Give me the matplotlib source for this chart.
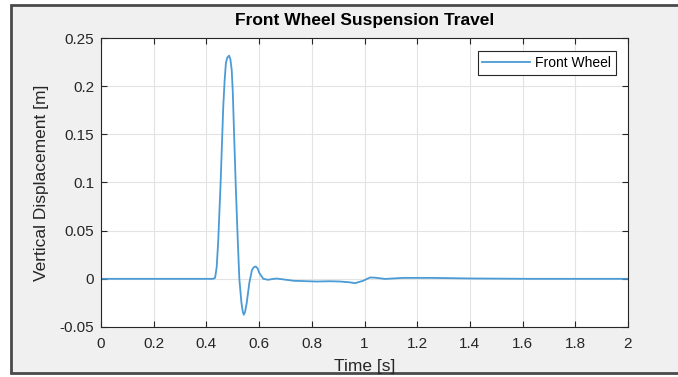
import matplotlib.pyplot as plt
from matplotlib.patches import Rectangle

# data
time_s = [0.0, 0.2, 0.4, 0.425, 0.433, 0.439, 0.445, 0.454, 0.464, 0.469, 0.474,
          0.479, 0.486, 0.491, 0.496, 0.500, 0.505, 0.512, 0.519, 0.525, 0.533,
          0.538, 0.542, 0.547, 0.553, 0.563, 0.573, 0.580, 0.587, 0.594, 0.601,
          0.616, 0.635, 0.650, 0.667, 0.690, 0.730, 0.819, 0.869, 0.907, 0.940,
          0.964, 0.995, 1.021, 1.040, 1.078, 1.147, 1.249, 1.400, 1.628, 2.0]
front_wheel = [0.0, 0.0, 0.0, 0.0, 0.001, 0.012, 0.040, 0.100, 0.179, 0.205, 0.224,
               0.2295, 0.2317, 0.228, 0.217, 0.195, 0.151, 0.092, 0.040, 0.0, -0.025,
               -0.034, -0.0373, -0.034, -0.025, -0.004, 0.0093, 0.012, 0.0128, 0.011, 0.006,
               0.0, -0.001, -0.0002, 0.0003, -0.0005, -0.002, -0.0028, -0.0025, -0.0028, -0.0035,
               -0.0045, -0.002, 0.0014, 0.0012, -0.0001, 0.001, 0.001, 0.0004, 0.0, 0.0]

x_ticks = [0, 0.2, 0.4, 0.6, 0.8, 1, 1.2, 1.4, 1.6, 1.8, 2]
x_labels = ['0', '0.2', '0.4', '0.6', '0.8', '1', '1.2', '1.4', '1.6', '1.8', '2']
y_ticks = [-0.05, 0, 0.05, 0.1, 0.15, 0.2, 0.25]
y_labels = ['-0.05', '0', '0.05', '0.1', '0.15', '0.2', '0.25']

plt.rcParams['font.family'] = ['Liberation Sans', 'DejaVu Sans']
dark = '#262626'

fig = plt.figure(figsize=(6.78, 3.77), dpi=100, facecolor='white')

# window frame of the screenshot (drawn behind the axes)
W, H = 678, 377
frame = Rectangle((11 / W, 4 / H), 1.2, (373 - 5) / H,
                  transform=fig.transFigure, facecolor='#f0f0f0',
                  edgecolor='#4a4a4a', linewidth=2)
frame.set_zorder(-10)
fig.add_artist(frame)

ax = fig.add_axes([101 / W, (H - 327) / H, (628 - 101) / W, (327 - 38) / H])
ax.set_zorder(1)
ax.set_facecolor('white')

ax.plot(time_s, front_wheel, color='#4a9bd6', linewidth=1.3, label='Front Wheel')

ax.set_xlim(0, 2)
ax.set_ylim(-0.05, 0.25)
ax.set_xticks(x_ticks)
ax.set_xticklabels(x_labels)
ax.set_yticks(y_ticks)
ax.set_yticklabels(y_labels)
ax.tick_params(direction='in', length=4, width=0.8, colors=dark, labelsize=11,
               top=True, right=True)
ax.tick_params(axis='x', pad=7)
ax.tick_params(axis='y', pad=5)
ax.grid(True, color='#e3e3e3', linewidth=0.8)
ax.set_axisbelow(True)
for s in ax.spines.values():
    s.set_color(dark)
    s.set_linewidth(0.8)

ax.set_xlabel('Time [s]', fontsize=12.5, color=dark, va='center')
ax.xaxis.set_label_coords(0.5, (327 - 366) / 289)
ax.set_ylabel('Vertical Displacement [m]', fontsize=12.5, color=dark, va='center')
ax.yaxis.set_label_coords((42 - 101) / 527, 0.5)
ax.text(0.5, 1 + (38 - 20) / 289, 'Front Wheel Suspension Travel', transform=ax.transAxes,
        ha='center', va='center', fontsize=12.5, fontweight='bold', color='black')

leg = ax.legend(loc='upper right', bbox_to_anchor=((616 - 101) / 527, (327 - 51) / 289),
                borderaxespad=0, fontsize=10, handlelength=3.4, handletextpad=0.4,
                fancybox=False, framealpha=1, borderpad=0.35)
leg.get_frame().set_edgecolor(dark)
leg.get_frame().set_linewidth(0.8)

fig.savefig('out.png', dpi=100)
